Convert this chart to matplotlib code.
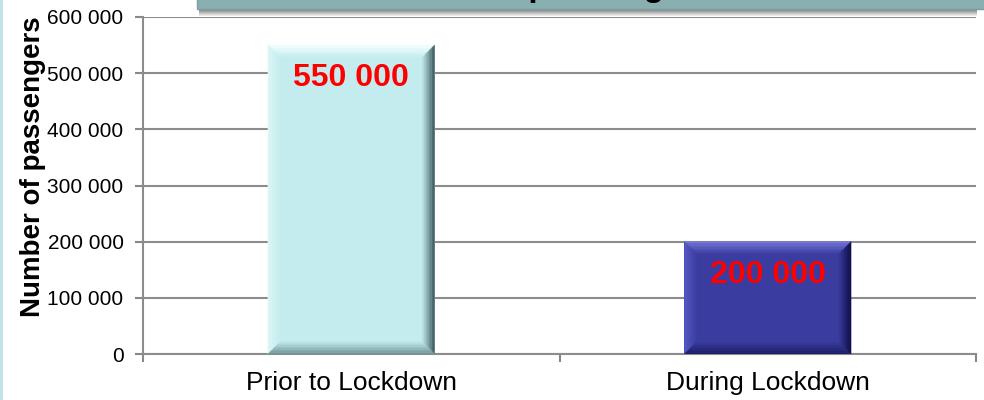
import numpy as np
import matplotlib
matplotlib.use("Agg")
import matplotlib.pyplot as plt
from matplotlib.patches import Polygon, Rectangle
from matplotlib.ticker import FuncFormatter, MultipleLocator
from matplotlib.colors import to_rgb

plt.rcParams['font.family'] = ['Liberation Sans', 'DejaVu Sans']

# data
categories = ["Prior to Lockdown", "During Lockdown"]
passengers = [550000, 200000]
bar_colors = ["#C4ECEE", "#3A3CA0"]
title_text = "Number of passengers"
ylabel_text = "Number of passengers"

# bevel colours per bar: top, left, right, bottom (outer edge)
bevels = [
    ["#F4FFFF", "#DDF6F6", "#3F5C60", "#6F9799"],
    ["#7476D6", "#5658C4", "#0E0F48", "#1E1F66"],
]

W, H = 984, 400
fig = plt.figure(figsize=(W / 100, H / 100), dpi=100)
ax = fig.add_axes([143 / W, 46 / H, 833 / W, 337 / H])

def fmt(v, pos):
    return f"{int(v):,}".replace(",", " ")

x = np.arange(len(categories))
bars = ax.bar(x, passengers, width=0.40, color=bar_colors, zorder=3)

ax.set_xlim(-0.5, len(categories) - 0.5)
ax.set_ylim(0, 600000)
ax.yaxis.set_major_locator(MultipleLocator(100000))
ax.yaxis.set_major_formatter(FuncFormatter(fmt))
ax.set_xticks(x)
ax.set_xticklabels(categories, fontsize=19)
ax.set_xticks(np.arange(len(categories) + 1) - 0.5, minor=True)
ax.tick_params(axis='x', which='major', length=0, pad=12)
ax.tick_params(axis='x', which='minor', length=6, width=1.5, color='#888888', direction='out')
ax.tick_params(axis='y', length=6, width=1.5, color='#888888', labelsize=15, pad=8)
ax.grid(axis='y', color='#8C8C8C', linewidth=1.5, zorder=0)
for s in ['top', 'right']:
    ax.spines[s].set_visible(False)
for s in ['left', 'bottom']:
    ax.spines[s].set_color('#8C8C8C')
    ax.spines[s].set_linewidth(1.5)
ax.set_ylabel(ylabel_text, fontsize=20, fontweight='bold')
ax.yaxis.set_label_coords(-0.117, 0.555)

# bevelled look on each bar
to_data = ax.transData.inverted()
bw = 12  # px
nstrip = 8
for rect, bcol, face in zip(bars, bevels, bar_colors):
    (px0, py0) = ax.transData.transform((rect.get_x(), 0))
    (px1, py1) = ax.transData.transform((rect.get_x() + rect.get_width(), rect.get_height()))
    fc = np.array(to_rgb(face))
    for k in range(nstrip):
        o = bw * k / nstrip
        i = bw * (k + 1) / nstrip
        t = k / nstrip
        sides = [
            [(px0 + o, py1 - o), (px1 - o, py1 - o), (px1 - i, py1 - i), (px0 + i, py1 - i)],
            [(px0 + o, py0 + o), (px0 + o, py1 - o), (px0 + i, py1 - i), (px0 + i, py0 + i)],
            [(px1 - o, py0 + o), (px1 - o, py1 - o), (px1 - i, py1 - i), (px1 - i, py0 + i)],
            [(px0 + o, py0 + o), (px1 - o, py0 + o), (px1 - i, py0 + i), (px0 + i, py0 + i)],
        ]
        for poly, oc in zip(sides, bcol):
            c = np.array(to_rgb(oc)) * (1 - t) + fc * t
            pts = to_data.transform(np.array(poly))
            ax.add_patch(Polygon(pts, closed=True, facecolor=c, edgecolor=c,
                                 linewidth=0.3, zorder=4))

for rect, v in zip(bars, passengers):
    ax.annotate(fmt(v, None), (rect.get_x() + rect.get_width() / 2, rect.get_height()),
                xytext=(0, -13), textcoords='offset points', ha='center', va='top',
                fontsize=23, fontweight='bold', color='#FF0000', zorder=6)

# left strip and the title box cut off at the top
fig.patches.append(Rectangle((0, 0), 3 / W, 1, transform=fig.transFigure,
                             facecolor='#BEE3EA', edgecolor='none'))
for k in range(7):
    fig.patches.append(Rectangle((199 / W, (H - 9 - k - 1) / H), 778 / W, 1 / H,
                                 transform=fig.transFigure,
                                 facecolor=str(0.5 + 0.07 * k), edgecolor='none'))
fig.patches.append(Rectangle((197 / W, (H - 9) / H), 800 / W, 11 / H, transform=fig.transFigure,
                             facecolor='#89AFB0', edgecolor='#7C9FA0', linewidth=1))
fig.text(533 / W, 1 + 4 / H, title_text, ha='center', va='baseline',
         fontsize=24, fontweight='bold', color='black')

fig.savefig("out.png", dpi=100)
